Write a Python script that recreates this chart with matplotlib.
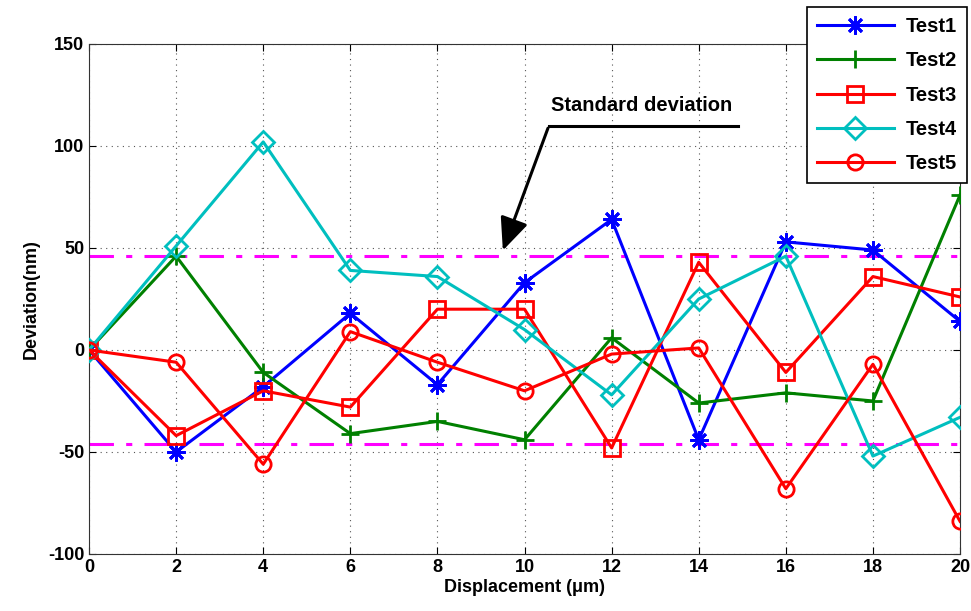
import matplotlib
matplotlib.use("Agg")
import matplotlib.pyplot as plt

plt.rcParams["font.family"] = ["Liberation Sans", "DejaVu Sans"]
plt.rcParams["font.weight"] = "bold"
plt.rcParams["axes.unicode_minus"] = False

x_disp = [0, 2, 4, 6, 8, 10, 12, 14, 16, 18, 20]
test1 = [0, -50, -18, 18, -17, 33, 64, -44, 53, 49, 14]
test2 = [0, 46, -11, -41, -35, -44, 6, -26, -21, -25, 76]
test3 = [0, -42, -20, -28, 20, 20, -48, 43, -11, 36, 26]
test4 = [0, 51, 102, 39, 36, 10, -22, 25, 46, -52, -33]
test5 = [0, -6, -56, 9, -6, -20, -2, 1, -68, -7, -84]
std_dev = 46

series = [
    ("Test1", test1, "#0000ff", (8, 2, 0)),
    ("Test2", test2, "#008000", "+"),
    ("Test3", test3, "#ff0000", "s"),
    ("Test4", test4, "#00bfbf", "D"),
    ("Test5", test5, "#ff0000", "o"),
]

fig = plt.figure(figsize=(9.71, 6.11), dpi=100)
ax = fig.add_axes([0.0917, 0.0933, 0.8970, 0.8347])

handles = []
for name, vals, col, mk in series:
    ms = 13 if mk in ("+", (8, 2, 0)) else 11
    h, = ax.plot(x_disp, vals, color=col, lw=2.2, marker=mk, markersize=ms,
                 markerfacecolor="none", markeredgecolor=col,
                 markeredgewidth=2.0, label=name, zorder=3)
    handles.append(h)

# Standardabweichung
for yv in (std_dev, -std_dev):
    ax.axhline(yv, color="#ff00ff", lw=2.2, ls=(0, (8, 4, 2, 4)), zorder=2)

ax.annotate("", xy=(9.48, 47.5), xytext=(10.56, 110),
            arrowprops=dict(arrowstyle="-|>,head_length=0.8,head_width=0.35",
                            color="black", lw=2.2, mutation_scale=25))
ax.plot([10.56, 14.9], [110, 110], color="black", lw=2.2)
ax.text(12.7, 120, "Standard deviation", ha="center", va="center",
        fontsize=14.5, fontweight="bold")

ax.set_xlim(0, 20)
ax.set_ylim(-100, 150)
ax.set_xticks(range(0, 21, 2))
ax.set_yticks(range(-100, 151, 50))
ax.grid(True, color="#555555", ls=(0, (1, 4)), lw=0.8)
ax.tick_params(direction="in", top=True, right=True, labelsize=13, length=5)
for lab in ax.get_xticklabels() + ax.get_yticklabels():
    lab.set_fontweight("bold")
for sp in ax.spines.values():
    sp.set_color("#333333")

ax.set_xlabel("Displacement (μm)", fontsize=13, fontweight="bold", labelpad=2)
ax.set_ylabel("Deviation(nm)", fontsize=13, fontweight="bold", labelpad=6)

leg = fig.legend(handles=handles, loc="upper right",
                 bbox_to_anchor=(0.9959, 0.9885), borderaxespad=0,
                 prop={"weight": "bold", "size": 14.5}, handlelength=3.8,
                 handletextpad=0.6, labelspacing=0.76, borderpad=0.5,
                 fancybox=False, framealpha=1, edgecolor="black")
leg.get_frame().set_linewidth(1.2)

fig.savefig("out.png", dpi=100)
